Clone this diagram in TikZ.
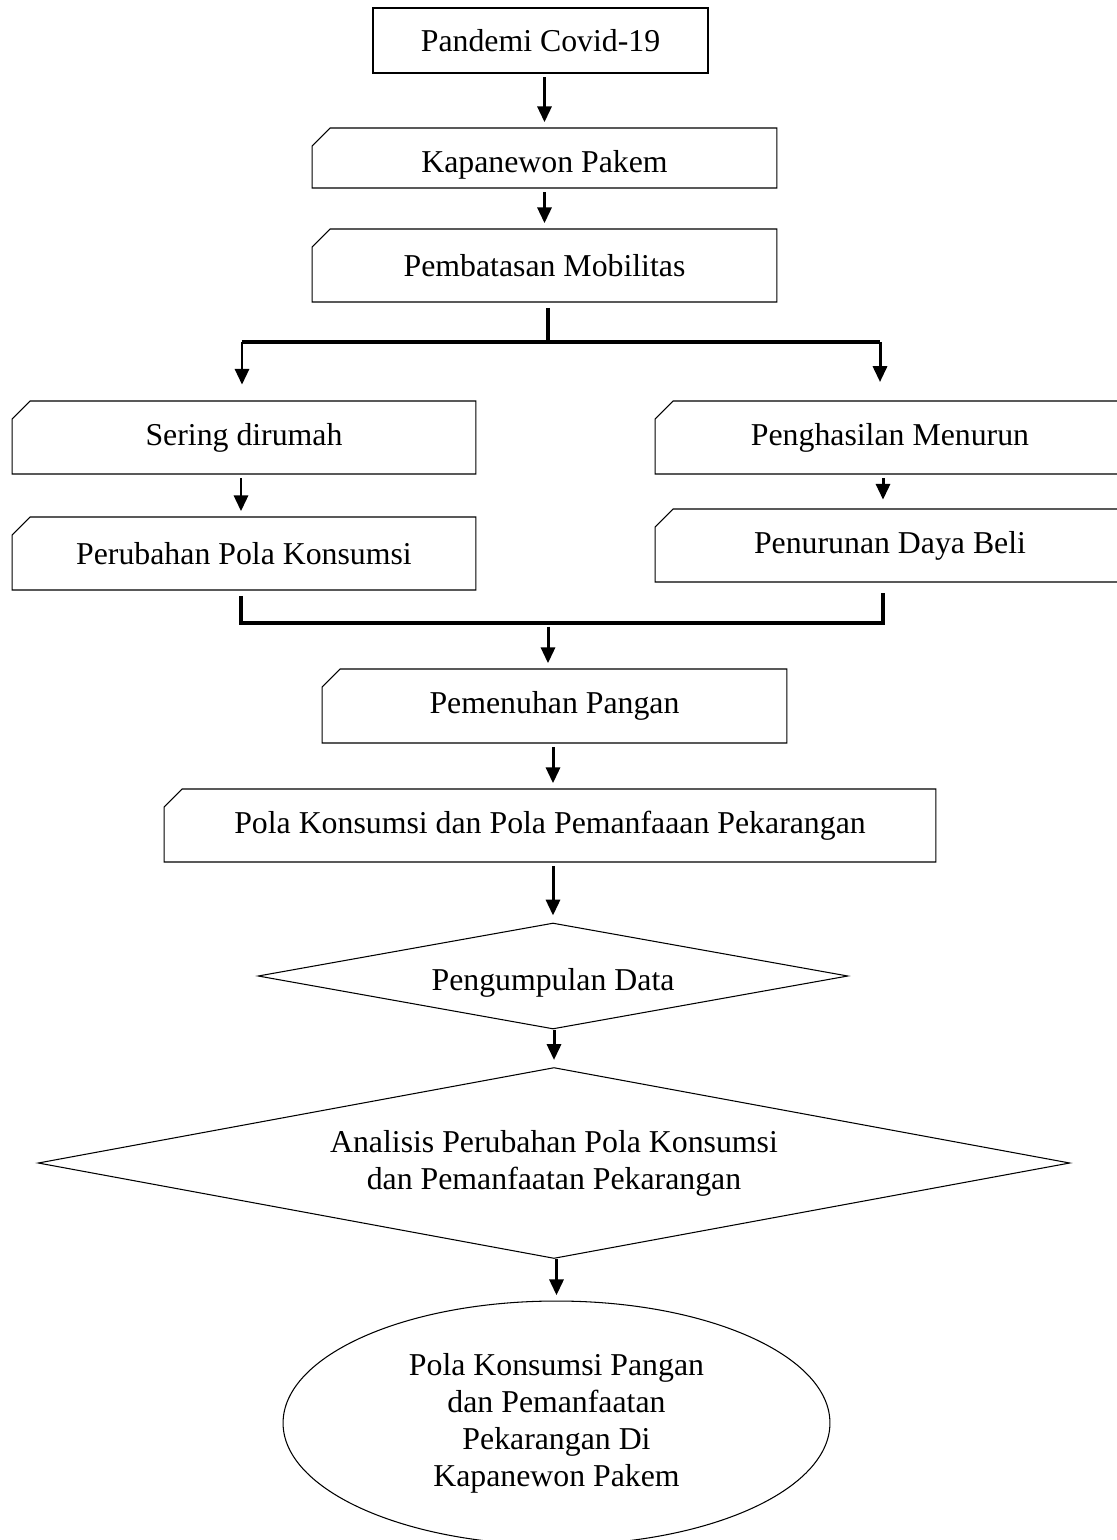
\documentclass[tikz,border=0pt]{standalone}
\usepackage{fontspec}
\setmainfont{Liberation Serif}
\usetikzlibrary{arrows.meta,shapes.geometric,shapes.misc}

\begin{document}
\begin{tikzpicture}[x=0.02cm,y=-0.02cm,
  font=\fontsize{18.1}{21}\selectfont,
  plainbox/.style={draw,line width=0.7pt,rectangle,inner sep=0pt},
  snipbox/.style={draw,line width=0.6pt,chamfered rectangle,
    chamfered rectangle corners=north west,
    chamfered rectangle xsep=0.2cm,chamfered rectangle ysep=0.16cm,
    inner sep=0pt,minimum height=1.46cm},
  choice/.style={draw,line width=0.6pt,diamond,inner sep=0pt,align=center},
  result/.style={draw,line width=0.6pt,ellipse,inner sep=0pt,align=center},
  flow/.style={line width=1.7pt,-{Triangle[width=8pt,length=9pt]},
    shorten <=2pt,shorten >=3pt},
  branch/.style={line width=2.8pt}]
\useasboundingbox (0,0) rectangle (1116,1540);

\node[plainbox,minimum width=6.7cm,minimum height=1.3cm] (pandemi) at (540.5,40.5) {Pandemi Covid-19};
\node[snipbox,minimum width=9.3cm,minimum height=1.2cm,text height=21pt,text depth=4pt] (kapanewon) at (544.5,158) {Kapanewon Pakem};
\node[snipbox,minimum width=9.3cm] (mobilitas) at (544.5,265.5) {Pembatasan Mobilitas};

% Left and right branches.
\node[snipbox,minimum width=9.28cm] (dirumah) at (244,437.5) {Sering dirumah};
\node[snipbox,minimum width=9.28cm] (konsumsi) at (244,553.5) {Perubahan Pola Konsumsi};
\node[snipbox,minimum width=9.4cm] (penghasilan) at (890,437.5) {Penghasilan Menurun};
\node[snipbox,minimum width=9.4cm] (dayabeli) at (890,545.5) {Penurunan Daya Beli};

\node[snipbox,minimum width=9.3cm,minimum height=1.48cm] (pangan) at (554.5,706) {Pemenuhan Pangan};
\node[snipbox,minimum width=15.44cm] (pekarangan) at (550,825.5) {Pola Konsumsi dan Pola Pemanfaaan Pekarangan};

\node[choice,aspect=5.57,minimum width=11.8cm,minimum height=2.12cm,text height=20pt,text depth=4pt] (data) at (553,976) {Pengumpulan Data};
\node[choice,aspect=5.4,minimum width=20.64cm,minimum height=3.82cm] (analisis) at (554,1163)
  {Analisis Perubahan Pola Konsumsi\\dan Pemanfaatan Pekarangan};
\node[result,minimum width=10.94cm,minimum height=4.88cm] (hasil) at (556.5,1423)
  {Pola Konsumsi Pangan\\dan Pemanfaatan\\Pekarangan Di\\Kapanewon Pakem};

% Split and merge points.
\coordinate (split) at (548,342);
\coordinate (splitL) at (242,342);
\coordinate (splitR) at (880,342);
\coordinate (merge) at (548,623);
\coordinate (mergeL) at (241,623);
\coordinate (mergeR) at (883,623);

\draw[flow] (pandemi.south -| kapanewon.north) -- (kapanewon.north);
\draw[flow] (kapanewon.south) -- (mobilitas.north);

\draw[branch,shorten <=3pt] (mobilitas.south -| split) -- (split);
\draw[branch] (splitL) -- (splitR);
\draw[flow,shorten <=0pt,shorten >=9pt] (splitL) -- (splitL |- dirumah.north);
\draw[flow,shorten <=0pt,shorten >=10.5pt] (splitR) -- (splitR |- penghasilan.north);

\draw[flow] (dirumah.south -| mergeL) -- (konsumsi.north -| mergeL);
\draw[flow,shorten >=5pt] (penghasilan.south -| mergeR) -- (dayabeli.north -| mergeR);

\draw[branch,shorten <=3pt,shorten >=6pt] (konsumsi.south -| mergeL) -- (mergeL) -- (mergeR) -- (dayabeli.south -| mergeR);
\draw[flow,shorten <=2pt] (merge) -- (pangan.north -| merge);

\draw[flow] (pangan.south -| data) -- (pekarangan.north -| data);
\draw[flow,shorten >=4pt] (pekarangan.south -| data) -- (data.north);
\draw[flow,shorten <=0pt,shorten >=4pt] (data.south -| analisis) -- (analisis.north);
\draw[flow,shorten <=0pt] (analisis.south -| hasil) -- (hasil.north);

\end{tikzpicture}
\end{document}
